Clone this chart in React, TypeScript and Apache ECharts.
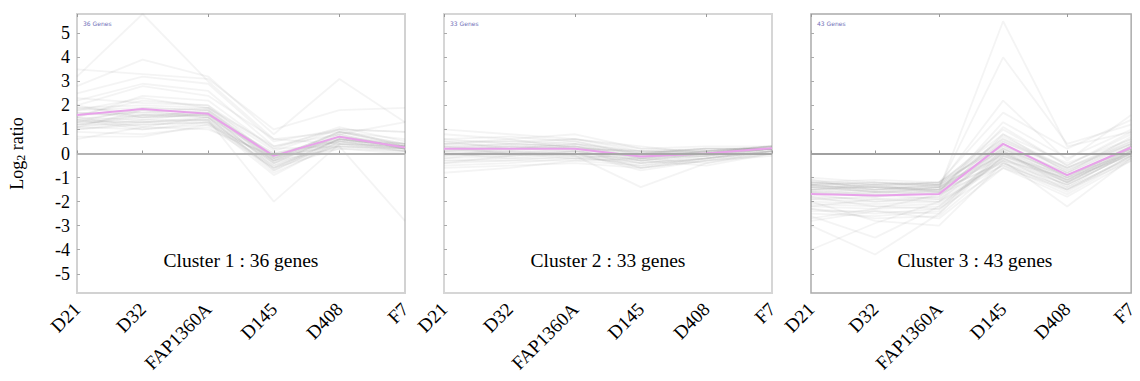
import React, { useEffect, useRef } from "react";
import * as echarts from "echarts";

const categories = ["D21", "D32", "FAP1360A", "D145", "D408", "F7"];
const yTicks = [-5, -4, -3, -2, -1, 0, 1, 2, 3, 4, 5];
const clusterTitles = ["Cluster 1 : 36 genes", "Cluster 2 : 33 genes", "Cluster 3 : 43 genes"];
const tinyLabels = ["36 Genes", "33 Genes", "43 Genes"];

const mean1 = [1.6, 1.85, 1.65, -0.1, 0.7, 0.25];
const mean2 = [0.2, 0.2, 0.2, -0.12, 0.0, 0.22];
const mean3 = [-1.68, -1.75, -1.68, 0.4, -0.9, 0.25];

const cluster1 = [
  [3.2, 5.8, 3.0, 0.6, 0.4, 0.3],
  [3.5, 3.3, 3.1, 1.0, 1.8, 1.9],
  [2.8, 3.9, 3.2, 0.8, 3.1, 1.3],
  [2.5, 3.2, 2.9, 0.5, 1.0, 0.9],
  [2.2, 2.9, 2.6, 0.3, 0.8, 1.3],
  [2.0, 2.8, 2.4, 0.6, 0.9, 0.6],
  [1.5, 2.4, 2.2, 0.2, 0.3, -2.8],
  [2.3, 2.1, 2.0, -0.2, 0.7, 0.4],
  [1.9, 2.0, 1.9, -0.3, 0.9, 0.3],
  [1.8, 1.9, 1.8, -0.4, 0.8, 0.2],
  [1.7, 1.6, 1.7, -0.6, 0.6, 0.3],
  [1.4, 1.8, 1.7, -0.2, 0.9, 0.4],
  [1.2, 1.5, 1.6, -0.5, 0.6, 0.2],
  [1.3, 1.3, 1.5, -0.7, 0.5, 0.2],
  [1.1, 1.4, 1.4, -0.8, 0.4, 0.1],
  [1.0, 1.2, 1.3, -0.9, 0.5, 0.2],
  [1.5, 1.1, 1.5, -0.4, 0.7, 0.3],
  [1.6, 1.7, 1.9, 0.1, 1.0, 0.3],
  [1.2, 1.6, 1.6, -0.3, 0.6, 0.3],
  [1.3, 1.9, 1.8, -0.1, 0.8, 0.2],
  [1.1, 1.0, 1.2, -0.5, 0.3, 0.1],
  [0.9, 0.8, 1.1, -0.6, 0.2, 0.0],
  [0.7, 0.7, 1.2, -0.2, 0.4, 0.2],
  [1.4, 1.3, 1.4, -2.0, 0.4, 0.3],
  [2.0, 1.5, 1.6, 0.0, 0.5, 0.4],
  [1.6, 2.2, 2.0, 0.2, 1.1, 0.5],
  [1.2, 1.2, 1.3, -0.6, 0.6, 0.4],
  [1.5, 1.4, 1.7, -0.3, 0.7, 0.2],
  [1.8, 2.3, 1.9, 0.3, 1.0, 0.9],
  [1.3, 1.6, 1.5, -0.1, 0.5, 0.1],
  [1.0, 1.3, 1.4, -0.4, 0.3, 0.2],
  [1.7, 1.5, 1.8, -0.2, 0.9, 0.4],
  [1.1, 1.8, 1.5, -0.7, 0.6, 0.3],
  [1.4, 1.0, 1.3, -0.3, 0.2, 0.1],
  [0.6, 1.1, 1.0, -0.1, 0.3, 0.2],
  [1.9, 1.7, 1.6, 0.0, 0.6, 0.3],
];

const cluster2 = [
  [1.0, 0.8, 0.6, 0.1, 0.2, 0.2],
  [0.8, 0.6, 0.8, 0.2, 0.1, 0.3],
  [0.6, 0.7, 0.5, 0.0, 0.2, 0.2],
  [0.5, 0.5, 0.6, 0.3, 0.0, 0.2],
  [0.4, 0.5, 0.4, 0.1, 0.1, 0.2],
  [0.4, 0.3, 0.5, -0.1, 0.0, 0.3],
  [0.3, 0.4, 0.3, 0.0, 0.2, 0.2],
  [0.3, 0.2, 0.4, -0.2, -0.1, 0.2],
  [0.2, 0.3, 0.2, 0.1, 0.0, 0.2],
  [0.2, 0.1, 0.3, -0.3, 0.0, 0.3],
  [0.1, 0.2, 0.1, -0.1, -0.1, 0.2],
  [0.1, 0.0, 0.2, -0.2, 0.1, 0.2],
  [0.0, 0.1, 0.0, -0.4, -0.2, 0.1],
  [0.0, -0.1, 0.1, -0.3, 0.0, 0.2],
  [-0.1, 0.0, -0.1, -0.5, -0.2, 0.1],
  [-0.2, -0.1, 0.0, -0.6, -0.3, 0.1],
  [-0.3, -0.2, -0.2, -0.4, -0.1, 0.2],
  [-0.3, -0.3, -0.1, -1.4, -0.4, 0.0],
  [-0.4, -0.3, -0.3, -0.5, -0.2, 0.1],
  [-0.5, -0.4, -0.2, -0.3, -0.5, 0.0],
  [-0.6, -0.5, -0.4, -0.6, -0.3, -0.1],
  [-0.8, -0.6, -0.3, -0.2, -0.4, 0.1],
  [0.6, 0.4, 0.3, -0.1, 0.1, 0.3],
  [0.2, 0.4, 0.6, 0.2, 0.3, 0.3],
  [-0.1, 0.2, 0.3, -0.2, 0.0, 0.2],
  [0.3, 0.0, 0.1, -0.3, -0.1, 0.1],
  [0.1, 0.3, 0.2, -0.6, -0.2, 0.2],
  [-0.2, 0.1, -0.1, -0.2, 0.1, 0.3],
  [0.5, 0.2, 0.4, 0.0, 0.2, 0.2],
  [0.0, -0.2, 0.0, -0.7, -0.3, 0.0],
  [0.4, 0.6, 0.2, 0.1, 0.0, 0.3],
  [-0.4, -0.1, 0.1, -0.4, -0.2, 0.1],
  [0.2, 0.0, -0.2, 0.0, 0.1, 0.2],
];

const cluster3 = [
  [-1.2, -1.4, -1.5, 5.5, 0.3, 0.9],
  [-1.4, -1.6, -1.4, 4.0, 0.4, 1.2],
  [-1.3, -1.5, -1.3, 2.2, -0.3, 1.6],
  [-1.1, -1.3, -1.2, 1.7, 0.2, 1.4],
  [-1.5, -1.4, -1.6, 1.3, -0.2, 1.0],
  [-1.0, -1.2, -1.3, 1.0, -0.5, 0.8],
  [-1.2, -1.3, -1.2, 0.8, -0.4, 0.6],
  [-1.3, -1.2, -1.4, 0.6, -0.6, 0.5],
  [-1.4, -1.3, -1.3, 0.5, -0.7, 0.4],
  [-1.2, -1.1, -1.2, 0.3, -0.8, 0.3],
  [-1.5, -1.4, -1.5, 0.2, -0.9, 0.2],
  [-1.3, -1.5, -1.4, 0.1, -1.0, 0.1],
  [-1.4, -1.6, -1.5, 0.0, -1.1, 0.3],
  [-1.6, -1.5, -1.3, -0.1, -0.9, 0.0],
  [-1.2, -1.4, -1.4, -0.2, -1.2, 0.1],
  [-1.5, -1.3, -1.6, -0.3, -1.0, -0.1],
  [-1.3, -1.2, -1.3, 0.4, -0.8, 0.4],
  [-1.1, -1.5, -1.5, -0.4, -1.3, 0.0],
  [-1.6, -1.7, -1.4, 0.2, -1.1, 0.2],
  [-1.4, -1.4, -1.2, 0.6, -0.7, 0.5],
  [-1.7, -1.6, -1.7, -0.5, -1.4, -0.2],
  [-1.8, -1.9, -1.8, 0.1, -1.2, 0.1],
  [-1.9, -2.0, -1.9, -0.2, -1.5, -0.1],
  [-2.0, -2.1, -2.0, 0.3, -1.0, 0.3],
  [-2.1, -2.2, -2.1, -0.3, -1.3, 0.0],
  [-2.2, -2.3, -2.2, 0.0, -1.1, 0.2],
  [-2.3, -2.5, -2.3, -0.6, -1.5, -0.3],
  [-2.4, -2.4, -2.5, -0.1, -1.2, 0.1],
  [-2.5, -2.6, -2.4, 0.2, -0.9, 0.2],
  [-2.0, -2.8, -3.0, -0.4, -1.6, -0.1],
  [-2.6, -3.5, -2.2, -0.2, -1.3, 0.0],
  [-3.0, -4.2, -2.5, 0.1, -1.4, 0.1],
  [-4.0, -2.9, -2.0, -0.3, -2.2, -0.2],
  [-1.9, -1.8, -1.6, 0.5, -0.6, 0.6],
  [-1.7, -2.0, -1.8, 0.8, -0.8, 0.7],
  [-2.2, -1.9, -2.0, -0.5, -1.7, -0.2],
  [-1.5, -1.7, -1.9, 0.4, -1.0, 0.3],
  [-1.8, -2.2, -2.3, -0.1, -1.1, 0.0],
  [-2.7, -2.3, -1.7, 0.0, -1.2, 0.2],
  [-1.3, -1.6, -1.6, 1.1, -0.5, 0.9],
  [-2.3, -2.7, -2.6, -0.4, -1.5, -0.1],
  [-1.6, -1.8, -1.5, 0.7, -0.6, 0.4],
  [-2.8, -2.4, -2.7, -0.6, -1.8, -0.3],
];

const clusters = [cluster1, cluster2, cluster3];
const means = [mean1, mean2, mean3];

const FONT = "Liberation Serif";
const GRID_LEFT = [77, 444, 811];
const GRID_W = 328;
const GRID_TOP = 14;
const GRID_H = 279;
const borderColors = ["#d2d2d2", "#d6d6d6", "#ababab"];
const borderWidths = [2, 2, 1.5];
const zeroColors = ["#b4b4b4", "#a8a8a8", "#a0a0a0"];

export default function App() {
  const ref = useRef<HTMLDivElement>(null);
  useEffect(() => {
    if (!ref.current) return;
    const chart = echarts.init(ref.current, null, { renderer: "svg" });
    const grids: any[] = [];
    const xAxes: any[] = [];
    const yAxes: any[] = [];
    const series: any[] = [];
    const graphics: any[] = [];
    for (let i = 0; i < 3; i++) {
      grids.push({
        left: GRID_LEFT[i],
        top: GRID_TOP,
        width: GRID_W,
        height: GRID_H,
        show: true,
        borderColor: borderColors[i],
        borderWidth: borderWidths[i],
        backgroundColor: "#fff",
      });
      xAxes.push({
        gridIndex: i,
        type: "category",
        data: categories,
        boundaryGap: false,
        axisLine: { show: false },
        axisTick: { show: true, inside: true, length: 3, lineStyle: { color: "#999" } },
        axisLabel: {
          interval: 0,
          rotate: 45,
          fontSize: 19,
          fontFamily: FONT,
          color: "#000",
          margin: 13,
        },
        splitLine: { show: false },
      });
      xAxes.push({
        gridIndex: i,
        type: "category",
        position: "top",
        data: categories,
        boundaryGap: false,
        axisLine: { show: false },
        axisTick: { show: true, inside: true, length: 3, lineStyle: { color: "#999" } },
        axisLabel: { show: false },
        splitLine: { show: false },
      });
      yAxes.push({
        gridIndex: i,
        type: "value",
        min: -5.8,
        max: 5.8,
        axisLine: { show: false },
        axisTick: {
          show: true,
          inside: true,
          length: 3,
          customValues: yTicks,
          lineStyle: { color: "#aaa" },
        },
        axisLabel: {
          show: i === 0,
          customValues: yTicks,
          fontSize: 18,
          fontFamily: FONT,
          color: "#000",
          margin: 7,
        },
        splitLine: { show: false },
        name: i === 0 ? "{a|Log}{b|2}{a| ratio}" : "",
        nameLocation: "middle",
        nameRotate: 90,
        nameGap: 50,
        nameTextStyle: {
          fontFamily: FONT,
          rich: {
            a: { fontSize: 18, fontFamily: FONT, color: "#000" },
            b: { fontSize: 12, fontFamily: FONT, color: "#000", padding: [9, 0, 0, 0] },
          },
        },
      });
      clusters[i].forEach((row) => {
        series.push({
          type: "line",
          xAxisIndex: i * 2,
          yAxisIndex: i,
          data: row,
          symbol: "none",
          silent: true,
          lineStyle: { color: "rgba(130,130,130,0.09)", width: 1.8 },
          z: 2,
        });
      });
      series.push({
        type: "line",
        xAxisIndex: i * 2,
        yAxisIndex: i,
        data: [],
        silent: true,
        z: 3,
        markLine: {
          silent: true,
          symbol: "none",
          label: { show: false },
          lineStyle: { color: zeroColors[i], width: 2, type: "solid" },
          data: [{ yAxis: 0 }],
        },
      });
      series.push({
        type: "line",
        xAxisIndex: i * 2,
        yAxisIndex: i,
        data: means[i],
        symbol: "none",
        silent: true,
        lineStyle: { color: "#e8a2ea", width: 2 },
        z: 4,
      });
      graphics.push({
        type: "text",
        x: GRID_LEFT[i] + GRID_W / 2,
        y: 260,
        style: {
          text: clusterTitles[i],
          fontSize: 19.5,
          fontFamily: FONT,
          fill: "#000",
          align: "center",
          verticalAlign: "middle",
        },
        z: 10,
      });
      graphics.push({
        type: "text",
        x: GRID_LEFT[i] + 6,
        y: 23,
        style: {
          text: tinyLabels[i],
          fontSize: 6,
          fontFamily: "DejaVu Sans",
          fill: "#6f6fb8",
          align: "left",
          verticalAlign: "middle",
        },
        z: 10,
      });
    }
    chart.setOption({
      animation: false,
      backgroundColor: "#fff",
      textStyle: { fontFamily: FONT },
      grid: grids,
      xAxis: xAxes,
      yAxis: yAxes,
      series,
      graphic: graphics,
    });
    return () => chart.dispose();
  }, []);
  return (
    <div
      ref={ref}
      style={{ position: "absolute", left: 0, top: 0, width: 1140, height: 381 }}
    />
  );
}
